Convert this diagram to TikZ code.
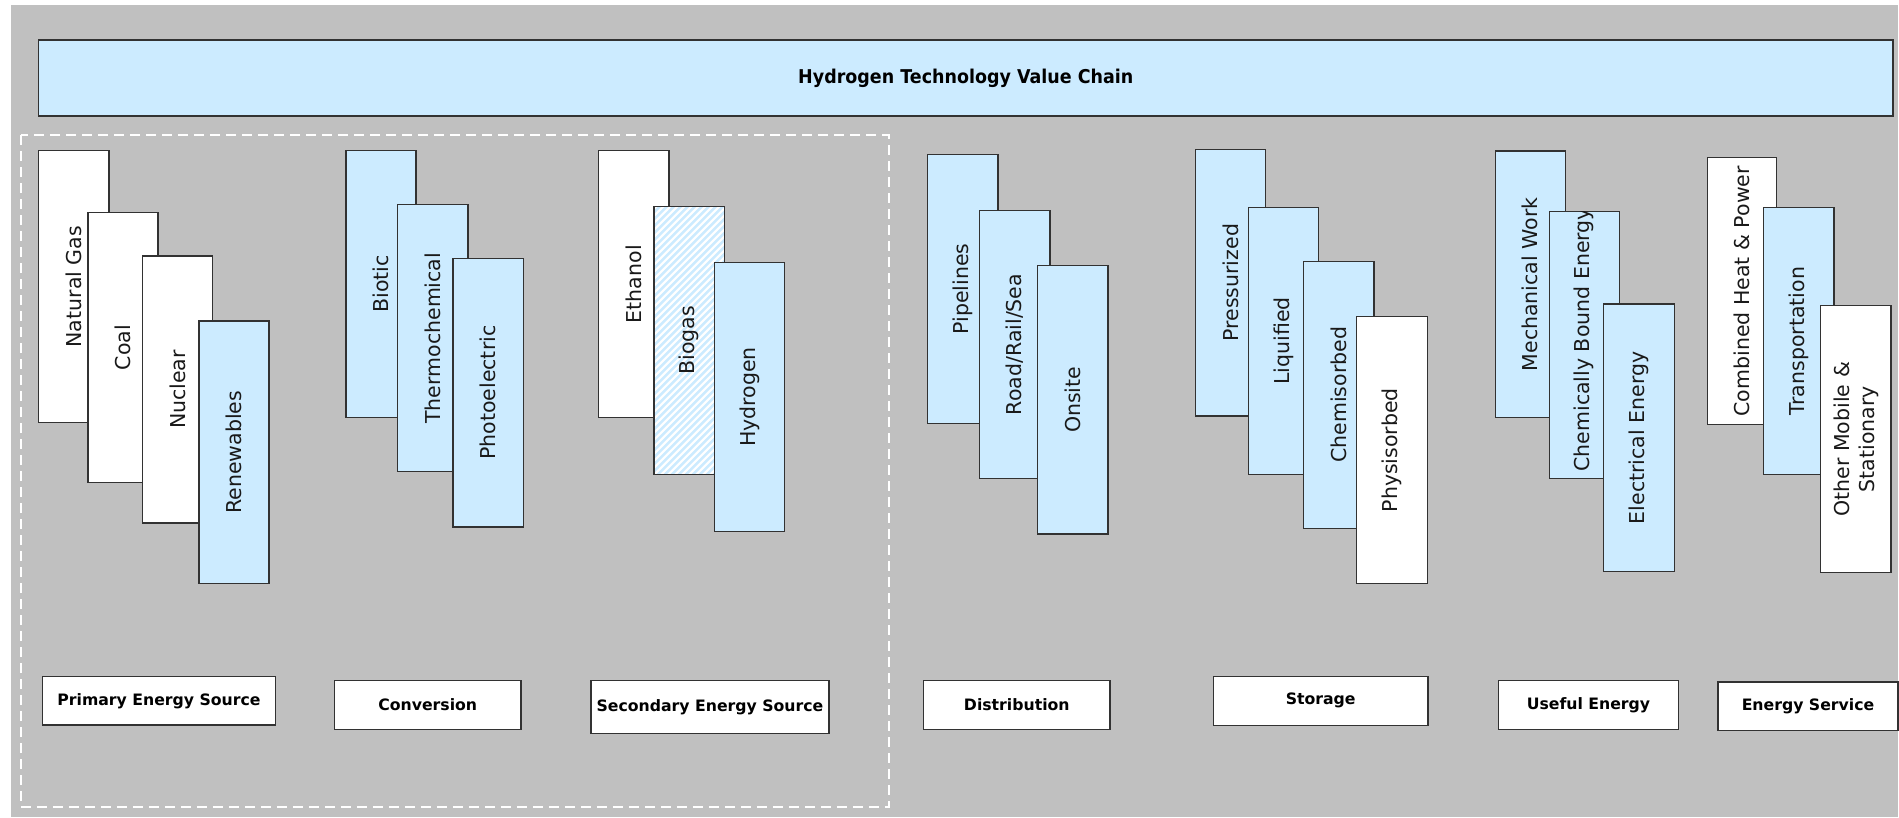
\documentclass[tikz,border=0pt]{standalone}
\usepackage{fontspec}
\setmainfont{DejaVu Sans}
\newfontfamily\titlefont[FakeStretch=0.92]{DejaVu Sans}
\definecolor{bggray}{RGB}{192,192,192}
\definecolor{lb}{RGB}{204,235,255}
\definecolor{boxline}{RGB}{50,50,50}
\tikzset{
  colbox/.style={draw=boxline, line width=1.3pt, rotate=90, inner sep=0pt, align=center,
    font=\fontsize{20.5}{25}\selectfont, text=black!90},
  labbox/.style={draw=boxline, line width=1.3pt, fill=white, inner sep=0pt,
    font=\fontsize{15.7}{19}\selectfont\bfseries, text=black},
  titlebox/.style={draw=boxline, line width=1.3pt, fill=lb, inner sep=0pt,
    font=\titlefont\fontsize{19}{23}\selectfont\bfseries, text=black},
  hatchline/.style={draw=lb, line width=2.4pt},
  groupframe/.style={draw=white, line width=2pt, dash pattern=on 10pt off 6pt}
}
\newcommand\cbox[7]{%
  \pgfmathsetmacro\cbW{#4-#2}%
  \pgfmathsetmacro\cbH{#5-#3}%
  \pgfmathsetmacro\cbX{(#2+#4)/2}%
  \pgfmathsetmacro\cbY{(#3+#5)/2}%
  \node[colbox, fill=#6, minimum width=\cbH pt, minimum height=\cbW pt] (#1) at (\cbX,\cbY) {#7};}
\newcommand\lbox[6]{%
  \pgfmathsetmacro\cbW{#4-#2}%
  \pgfmathsetmacro\cbH{#5-#3}%
  \pgfmathsetmacro\cbX{(#2+#4)/2}%
  \pgfmathsetmacro\cbY{(#3+#5)/2}%
  \node[labbox, minimum width=\cbW pt, minimum height=\cbH pt] (#1) at (\cbX,\cbY) {#6};}
\begin{document}
\begin{tikzpicture}[x=1pt,y=-1pt]
\useasboundingbox (0,0) rectangle (1899,817);
\fill[white] (0,0) rectangle (1899,817);
\fill[bggray] (11,5) rectangle (1898,817);

% title
\node[titlebox, minimum width=1854.5pt, minimum height=76pt] (title) at (965.75,78) {Hydrogen Technology Value Chain};

% group frame
\draw[groupframe] (21,135) rectangle (888.5,807);

% primary energy source
\cbox{ng}{38.4}{150.7}{108.9}{422.7}{white}{Natural Gas}
\cbox{coal}{87.9}{212.7}{158}{482.7}{white}{Coal}
\cbox{nuc}{142.4}{256}{212.5}{523}{white}{Nuclear}
\cbox{ren}{199}{321}{269}{583.7}{lb}{Renewables}

% conversion
\cbox{bio}{346}{150.7}{416}{417.3}{lb}{Biotic}
\cbox{thermo}{397.3}{204.7}{467.9}{471.7}{lb}{Thermochemical}
\cbox{photo}{453}{258.3}{523.2}{527}{lb}{Photoelectric}

% secondary energy source
\cbox{eth}{598.3}{150.7}{669}{417.7}{white}{Ethanol}
\fill[white] (654,206.3) rectangle (724.3,474.3);
\begin{scope}
  \clip (654,206.3) rectangle (724.3,474.3);
  \foreach \i in {0,7,...,378} \draw[hatchline] (354+\i,484.3) -- ++(300,-300);
\end{scope}
\cbox{biogas}{654}{206.3}{724.3}{474.3}{none}{Biogas}
\cbox{hyd}{714.3}{262.7}{784.7}{531.3}{lb}{Hydrogen}

% distribution
\cbox{pipe}{927.7}{154.7}{998}{423.3}{lb}{Pipelines}
\cbox{road}{979.3}{210.3}{1050}{478.7}{lb}{Road/Rail/Sea}
\cbox{onsite}{1037.3}{265.7}{1108}{534}{lb}{Onsite}

% storage
\cbox{press}{1195.3}{149.3}{1265.7}{416}{lb}{Pressurized}
\cbox{liq}{1248.3}{207.7}{1318.7}{474.3}{lb}{Liquified}
\cbox{chem}{1303.7}{261.3}{1374}{528.3}{lb}{Chemisorbed}
\cbox{phys}{1356.7}{316.7}{1427.3}{583.7}{white}{Physisorbed}

% useful energy
\cbox{mech}{1495.3}{151}{1565.3}{417.7}{lb}{Mechanical Work}
\cbox{cbe}{1549.3}{211.3}{1619.3}{478.7}{lb}{}
\begin{scope}
  \clip (1549.3,211.3) rectangle (1619.3,478.7);
  \node[rotate=90, anchor=west, inner sep=0pt, font=\fontsize{20.5}{25}\selectfont, text=black!90] (cbetext) at (1584.3,471.7) {Chemically Bound Energy};
\end{scope}
\cbox{elec}{1603.7}{304}{1674.3}{571.7}{lb}{Electrical Energy}

% energy service
\cbox{chp}{1707.3}{157.7}{1776.3}{424.7}{white}{Combined Heat \& Power}
\cbox{trans}{1763.7}{207.7}{1834}{474.3}{lb}{Transportation}
\cbox{other}{1820.7}{305.7}{1891}{572.7}{white}{Other Mobile \&\\Stationary}

% stage labels
\lbox{lpes}{42.3}{676.7}{275.7}{725}{Primary Energy Source}
\lbox{lconv}{334.5}{680.7}{521}{729.3}{Conversion}
\lbox{lses}{591}{680.7}{829}{733.3}{Secondary Energy Source}
\lbox{ldist}{923.6}{680.7}{1110}{729.3}{Distribution}
\lbox{lstor}{1213.4}{676.3}{1428}{725.3}{Storage}
\lbox{luse}{1498.7}{680.7}{1678.3}{729.3}{Useful Energy}
\lbox{lserv}{1718}{682}{1898}{730.7}{Energy Service}
\end{tikzpicture}
\end{document}
